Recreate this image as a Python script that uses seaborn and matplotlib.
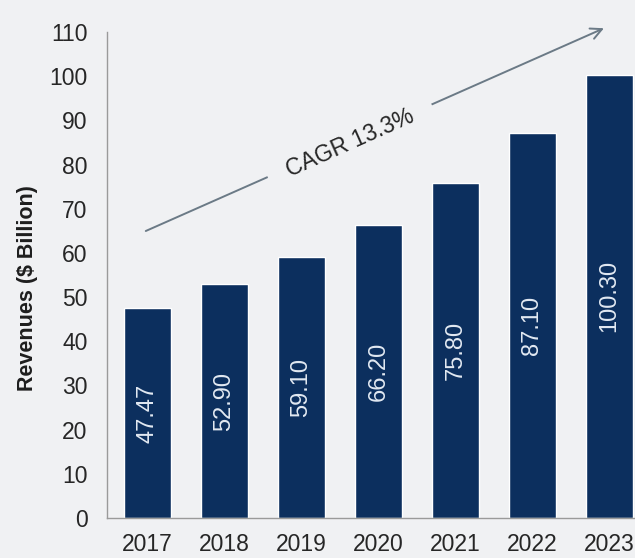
import matplotlib
matplotlib.use("Agg")
import matplotlib.pyplot as plt
import seaborn as sns
import pandas as pd

years = ["2017", "2018", "2019", "2020", "2021", "2022", "2023"]
revenues = [47.47, 52.90, 59.10, 66.20, 75.80, 87.10, 100.30]
value_labels = ["47.47", "52.90", "59.10", "66.20", "75.80", "87.10", "100.30"]
yticks = [0, 10, 20, 30, 40, 50, 60, 70, 80, 90, 100, 110]
cagr_text = "CAGR 13.3%"
ylabel = "Revenues ($ Billion)"

sns.set_theme(style="white")
plt.rcParams["font.family"] = ["Liberation Sans", "DejaVu Sans"]

bg = "#f0f1f3"
bar_color = "#0c2f5e"

df = pd.DataFrame({"year": years, "rev": revenues})

fig = plt.figure(figsize=(6.35, 5.58), dpi=100, facecolor=bg)
ax = fig.add_axes([0.1685, 0.0717, 0.8315, 0.871])
ax.set_facecolor(bg)

sns.barplot(data=df, x="year", y="rev", color=bar_color, saturation=1,
            width=0.61, ax=ax)

ax.set_xlim(-0.52, 6.33)
ax.set_ylim(0, 110)
ax.set_yticks(yticks)
ax.set_yticklabels([str(t) for t in yticks])
ax.tick_params(axis="both", labelsize=16.5, colors="#262626", length=0)
ax.tick_params(axis="x", pad=11)
ax.tick_params(axis="y", pad=14)
ax.set_xlabel("")
ax.set_ylabel(ylabel, fontsize=15.5, fontweight="bold", color="#1e1e1e")
ax.yaxis.set_label_coords(-0.13, 0.474)

for s in ["top", "right"]:
    ax.spines[s].set_visible(False)
ax.spines["left"].set_color("#9a9a9a")
ax.spines["bottom"].set_color("#9a9a9a")
ax.spines["left"].set_linewidth(1.0)
ax.spines["bottom"].set_linewidth(1.0)

for i, (v, lab) in enumerate(zip(revenues, value_labels)):
    ax.text(i, v / 2, lab, rotation=90, ha="center", va="center",
            color="#e2e9f2", fontsize=17)

# CAGR arrow
ax.annotate("", xy=(5.96, 111.1), xytext=(-0.05, 64.7),
            arrowprops=dict(arrowstyle="->", color="#6b7a86", lw=1.4,
                            mutation_scale=20),
            annotation_clip=False)
ax.text(2.64, 84.9, cagr_text, rotation=24, rotation_mode="anchor",
        ha="center", va="center", fontsize=16.5, color="#262626",
        bbox=dict(facecolor=bg, edgecolor="none", pad=15))

fig.savefig("out.png", dpi=100, facecolor=bg)
